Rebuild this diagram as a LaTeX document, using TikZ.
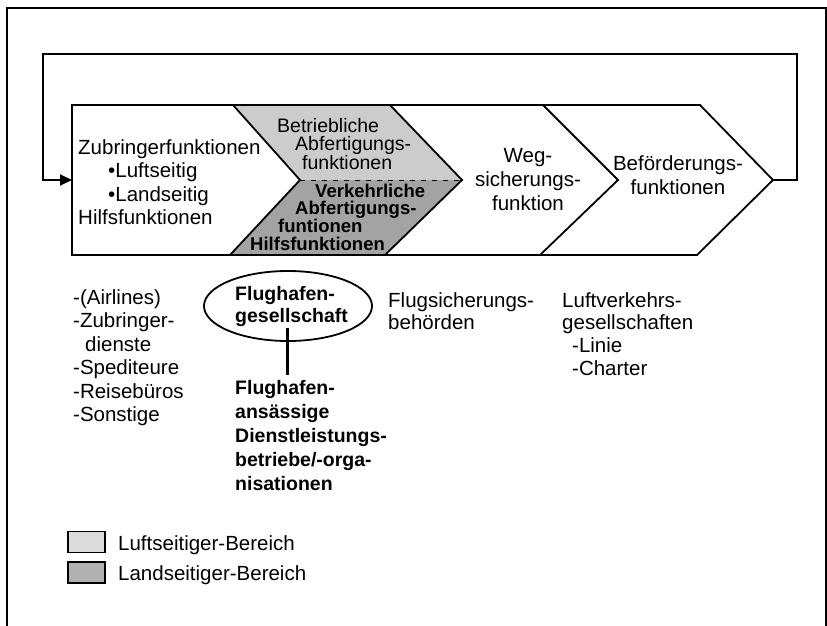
\documentclass[tikz,border=0pt]{standalone}
\usepackage{fontspec}
\setmainfont{Liberation Sans}
\usetikzlibrary{shapes.geometric,arrows.meta}
\definecolor{luft}{gray}{0.80}
\definecolor{land}{gray}{0.64}
\tikzset{
  strip/.style={draw=black,line width=1.8pt,line join=miter},
  txt/.style={inner sep=0pt,align=left,font={\fontsize{20.5}{23.5}\selectfont}},
  ctxt/.style={inner sep=0pt,align=center,font={\fontsize{20.5}{24}\selectfont}},
  btxt/.style={inner sep=0pt,align=left,font={\fontsize{19.5}{24}\selectfont\bfseries}},
  shtxt/.style={inner sep=0pt,align=left,font={\fontsize{19.5}{17.6}\selectfont}},
  frame/.style={line width=1.8pt},
  legbox/.style={draw=black,line width=1.5pt,minimum width=37pt,minimum height=21pt,inner sep=0pt}
}
\begin{document}
\begin{tikzpicture}[x=1pt,y=-1pt]
\useasboundingbox (0,0) rectangle (827,626);
% outer frame (open at bottom)
\draw[frame] (7,626) -- (7,8) -- (826,8) -- (826,626);
% fills of the middle segment
\fill[luft] (233,105) -- (390,105) -- (462,180) -- (300,180) -- cycle;
\fill[land] (300,180) -- (462,180) -- (385,255) -- (230,255) -- cycle;
\draw[dash pattern=on 5pt off 6pt,line width=1pt] (300,180) -- (462,180);
% chevron strip
\draw[strip] (72,105) -- (700,105) -- (773,180) -- (697,255) -- (72,255) -- cycle;
\draw[strip] (233,105) -- (300,180) -- (230,255);
\draw[strip] (390,105) -- (462,180) -- (385,255);
\draw[strip] (543,105) -- (618,180) -- (540,255);
% feedback loop
\coordinate (tip) at (773,180);
\coordinate (fr) at (797,180);
\coordinate (frt) at (797,54);
\coordinate (flt) at (43,54);
\coordinate (fl) at (43,180);
\coordinate (entry) at (72,180);
\draw[line width=1.8pt,-{Triangle[length=12pt,width=11pt]}] (tip) -- (fr) -- (frt) -- (flt) -- (fl) -- (entry);
% segment texts (anchor = baseline of last line)
\node[txt,anchor=base west] (zub) at (78,224.5) {Zubringerfunktionen\\\hspace*{30pt}\textbullet Luftseitig\\\hspace*{30pt}\textbullet Landseitig\\Hilfsfunktionen};
\node[shtxt,anchor=base west] (betr) at (277,169.2) {Betriebliche\\\hspace*{18pt}Abfertigungs-\\\hspace*{25pt}funktionen};
\node[shtxt,anchor=base west,font={\fontsize{18.5}{17.8}\selectfont\bfseries}] (verk) at (250,250.4) {\hspace*{65pt}Verkehrliche\\\hspace*{45pt}Abfertigungs-\\\hspace*{28pt}funtionen\\Hilfsfunktionen};
\node[ctxt,anchor=base] (weg) at (528,210) {Weg-\\sicherungs-\\funktion};
\node[ctxt,anchor=base] (bef) at (678,194) {Beförderungs-\\funktionen};
% lower texts
\node[txt,anchor=base west] (col1) at (73,421.5) {-(Airlines)\\-Zubringer-\\\hspace*{12pt}dienste\\-Spediteure\\-Reisebüros\\-Sonstige};
\node[draw,line width=1.8pt,ellipse,minimum width=168pt,minimum height=70pt,inner sep=0pt] (fgell) at (288,306) {};
\node[btxt,anchor=base west,font={\fontsize{19.5}{22}\selectfont\bfseries}] (fgtext) at (235,322) {Flughafen-\\gesellschaft};
\coordinate (ltop) at (287,328);
\coordinate (lbot) at (287,375);
\draw[line width=3pt] (ltop) -- (lbot);
\node[btxt,anchor=base west] (ansaessig) at (235,490) {Flughafen-\\ansässige\\Dienstleistungs-\\betriebe/-orga-\\nisationen};
\node[txt,anchor=base west,font={\fontsize{20.5}{22}\selectfont}] (flugs) at (388,329) {Flugsicherungs-\\behörden};
\node[txt,anchor=base west,font={\fontsize{20.5}{22.7}\selectfont}] (luftv) at (562,375.1) {Luftverkehrs-\\gesellschaften\\\hspace*{10pt}-Linie\\\hspace*{10pt}-Charter};
% legend
\node[legbox,fill=luft!70!white] (leg1) at (86.5,542) {};
\node[legbox,fill=land!85!white] (leg2) at (86.5,572.5) {};
\node[txt,anchor=base west] (leg1t) at (118,550) {Luftseitiger-Bereich};
\node[txt,anchor=base west] (leg2t) at (118,580) {Landseitiger-Bereich};
\end{tikzpicture}
\end{document}
